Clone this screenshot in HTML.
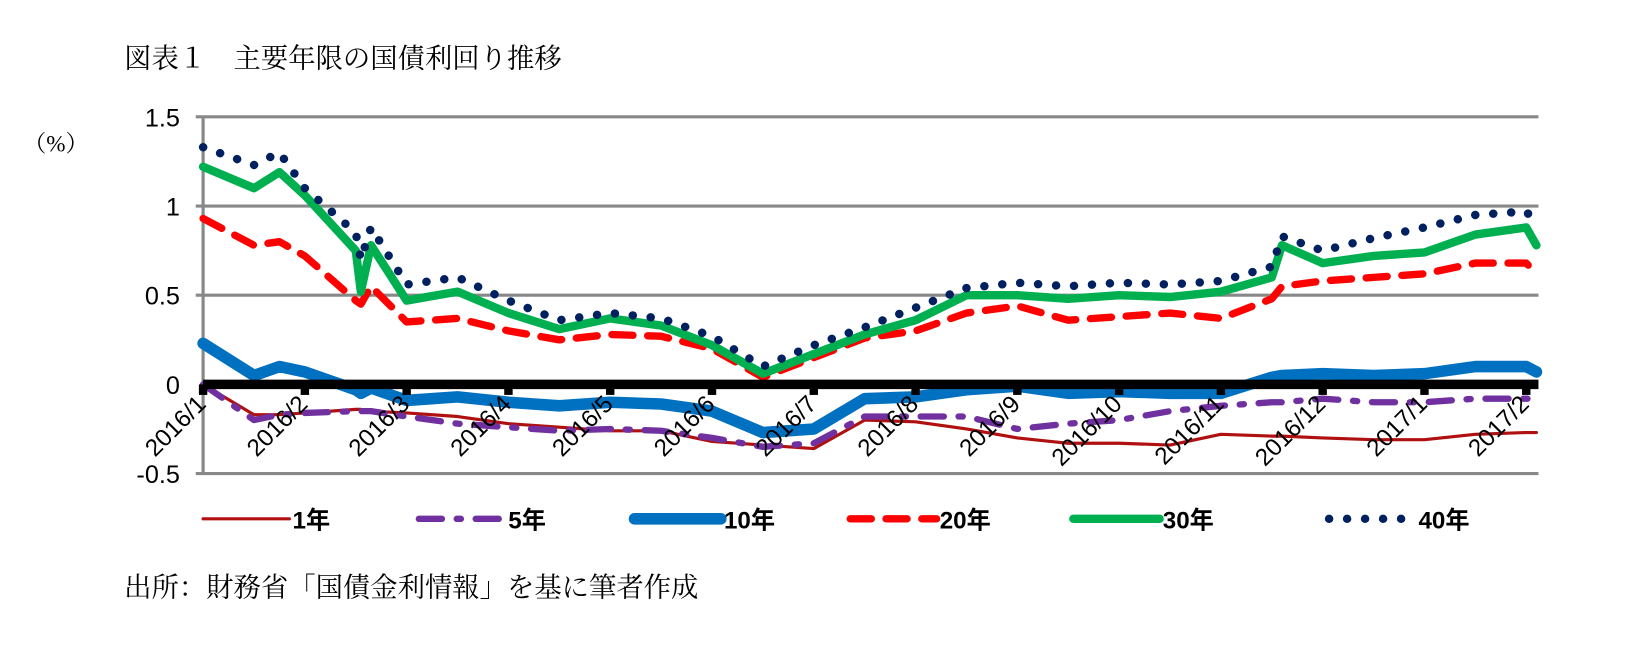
<!DOCTYPE html>
<html><head><meta charset="utf-8"><style>
body{margin:0;width:1650px;height:642px;background:#fff;overflow:hidden;font-family:"Liberation Serif","Noto Serif CJK SC",serif;}
</style></head><body>
<svg width="1650" height="642" viewBox="0 0 1568 610" xmlns="http://www.w3.org/2000/svg">
<text x="118" y="64" font-size="26" font-family="Liberation Serif, Noto Serif CJK SC, serif">図表１　主要年限の国債利回り推移</text>
<text x="22" y="144" font-size="22" font-family="Liberation Serif, Noto Serif CJK SC, serif">（%）</text>
<text x="118" y="567" font-size="26" font-family="Liberation Serif, Noto Serif CJK SC, serif">出所：財務省「国債金利情報」を基に筆者作成</text>
<g id="grid"></g><g id="series"></g><g id="axes"></g><g id="legend"></g>
</svg>
<script>
const t=[0,0.5,0.75,1,1.5,1.55,1.65,2,2.5,3,3.5,4,4.5,5,5.5,6,6.5,7,7.5,8,8.5,9,9.5,10,10.5,10.6,11,11.5,12,12.5,13,13.1];
const y1=[0,-0.17,-0.17,-0.16,-0.14,-0.14,-0.15,-0.16,-0.18,-0.22,-0.24,-0.26,-0.26,-0.32,-0.34,-0.36,-0.2,-0.21,-0.25,-0.3,-0.33,-0.33,-0.34,-0.28,-0.29,-0.29,-0.3,-0.31,-0.31,-0.28,-0.27,-0.27];
const y5=[0,-0.2,-0.17,-0.16,-0.15,-0.15,-0.15,-0.18,-0.22,-0.24,-0.26,-0.25,-0.26,-0.3,-0.35,-0.33,-0.18,-0.18,-0.18,-0.25,-0.22,-0.2,-0.15,-0.12,-0.1,-0.1,-0.08,-0.1,-0.1,-0.08,-0.08,-0.08];
const y10=[0.23,0.05,0.1,0.07,-0.03,-0.05,-0.02,-0.09,-0.07,-0.1,-0.12,-0.1,-0.11,-0.15,-0.27,-0.25,-0.08,-0.07,-0.03,-0.01,-0.05,-0.04,-0.05,-0.05,0.04,0.05,0.06,0.05,0.06,0.1,0.1,0.07];
const y20=[0.93,0.78,0.8,0.72,0.47,0.45,0.55,0.35,0.37,0.3,0.25,0.28,0.27,0.2,0.04,0.15,0.26,0.3,0.4,0.44,0.36,0.38,0.4,0.37,0.48,0.55,0.58,0.6,0.62,0.68,0.68,0.62];
const y30=[1.22,1.1,1.19,1.06,0.75,0.52,0.78,0.47,0.52,0.4,0.31,0.37,0.33,0.22,0.06,0.17,0.28,0.36,0.5,0.5,0.48,0.5,0.49,0.52,0.6,0.78,0.68,0.72,0.74,0.84,0.88,0.78];
const y40=[1.33,1.23,1.3,1.1,0.85,0.7,0.88,0.56,0.6,0.47,0.36,0.4,0.37,0.27,0.1,0.22,0.32,0.43,0.54,0.57,0.55,0.57,0.56,0.58,0.66,0.83,0.75,0.82,0.88,0.95,0.97,0.9];
const yTicks=[1.5,1,0.5,0,-0.5];
const yTickLabels=["1.5","1","0.5","0","-0.5"];
const monthLabels=["2016/1","2016/2","2016/3","2016/4","2016/5","2016/6","2016/7","2016/8","2016/9","2016/10","2016/11","2016/12","2017/1","2017/2"];
const legendNames=["1年","5年","10年","20年","30年","40年"];
const NS="http://www.w3.org/2000/svg";
const X0=193,X1=1462,Y0=111,Y1=450;
const xs=v=>X0+(v/13.12)*(X1-X0);
const ys=v=>Y0+(1.5-v)/2*(Y1-Y0);
function mk(tag,attrs,parent){const e=document.createElementNS(NS,tag);for(const k in attrs)e.setAttribute(k,attrs[k]);parent.appendChild(e);return e;}
const grid=document.getElementById('grid'),axes=document.getElementById('axes'),ser=document.getElementById('series'),leg=document.getElementById('legend');
yTicks.forEach((v,i)=>{
 if(v!==0){const l=mk('line',{x1:X0-7,x2:X1,y1:ys(v),y2:ys(v),stroke:'#888','stroke-width':3},grid);
 
 }
 const tx=mk('text',{x:X0-22,y:ys(v)+9,'font-size':24,'text-anchor':'end','font-family':'Liberation Sans, sans-serif'},axes);
 tx.textContent=yTickLabels[i];
 
 
});
const ya=mk('line',{x1:X0,x2:X0,y1:Y0,y2:Y1,stroke:'#888','stroke-width':3},grid);


const zl=mk('line',{x1:X0,x2:X1,y1:ys(0),y2:ys(0),stroke:'#000','stroke-width':9},axes);


monthLabels.forEach((m,i)=>{
 const x=xs(i);
 const tk=mk('rect',{x:x-4,y:ys(0),width:8,height:10,fill:'#000'},axes);
 
 
 const tx=mk('text',{x:x+4,y:ys(0)+20,'font-size':23,'text-anchor':'end','font-family':'Liberation Sans, sans-serif',transform:`rotate(-45 ${x+4} ${ys(0)+20})`},axes);
 tx.textContent=m;
 
 
});
const styles=[
 {c:'#b01010',w:3,d:''},
 {c:'#7030a0',w:6,d:'22 14 4 14'},
 {c:'#0070c0',w:11,d:''},
 {c:'#ff0000',w:7,d:'20 14'},
 {c:'#00b050',w:8,d:''},
 {c:'#002060',w:8,d:'0.1 17'}];
const data=[y1,y5,y10,y20,y30,y40];
const names=['series-1y','series-5y','series-10y','series-20y','series-30y','series-40y'];
data.forEach((arr,k)=>{
 const s=styles[k];
 const p=mk('polyline',{points:arr.map((v,i)=>xs(t[i])+','+ys(v)).join(' '),fill:'none',stroke:s.c,'stroke-width':s.w,'stroke-linejoin':'round','stroke-linecap':'round'},ser);
 if(s.d)p.setAttribute('stroke-dasharray',s.d);
 
 
});
const lx=[193,398,603,808,1020,1263];
legendNames.forEach((n,k)=>{
 const s=styles[k];
 const g=mk('g',{},leg);
 
 
 const l=mk('line',{x1:lx[k],x2:lx[k]+82,y1:493,y2:493,stroke:s.c,'stroke-width':s.w,'stroke-linecap':'round'},g);
 if(s.d)l.setAttribute('stroke-dasharray',s.d);
 const tx=mk('text',{x:lx[k]+85,y:502,'font-size':23,'font-weight':'bold','font-family':'Liberation Sans, Noto Sans CJK JP, sans-serif'},g);
 tx.textContent=n;
});
</script>
</body></html>
